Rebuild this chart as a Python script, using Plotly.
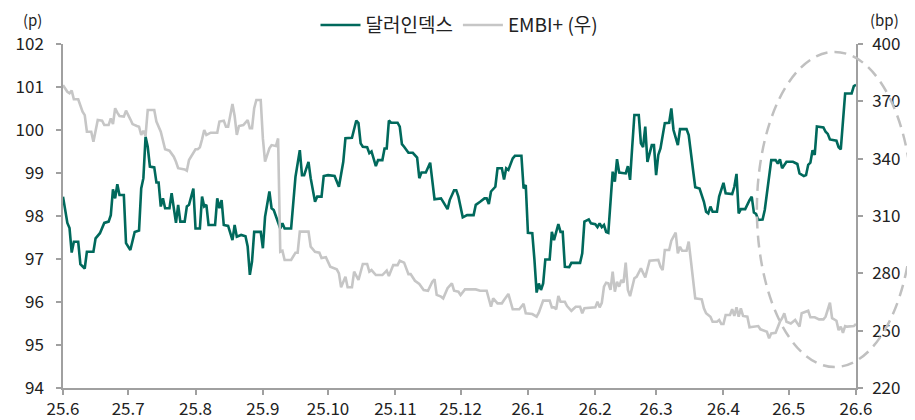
import plotly.graph_objects as go

# 달러인덱스 (left axis, p)
dxy_dates = ["2025-06-01","2025-06-03","2025-06-04","2025-06-05","2025-06-06","2025-06-08","2025-06-09","2025-06-11","2025-06-12","2025-06-15",
"2025-06-16","2025-06-18","2025-06-20","2025-06-22","2025-06-23","2025-06-24","2025-06-25","2025-06-26","2025-06-27","2025-06-29",
"2025-06-30","2025-07-02","2025-07-04","2025-07-06","2025-07-07","2025-07-08","2025-07-09","2025-07-10","2025-07-11","2025-07-13",
"2025-07-14","2025-07-15","2025-07-16","2025-07-17","2025-07-18","2025-07-20","2025-07-21","2025-07-23","2025-07-24","2025-07-25",
"2025-07-27","2025-07-28","2025-07-29","2025-07-31","2025-08-01","2025-08-03","2025-08-04","2025-08-05","2025-08-06","2025-08-07",
"2025-08-10","2025-08-11","2025-08-12","2025-08-13","2025-08-14","2025-08-16","2025-08-18","2025-08-19","2025-08-20","2025-08-22",
"2025-08-24","2025-08-25","2025-08-26","2025-08-27","2025-08-28","2025-08-31","2025-09-01","2025-09-02","2025-09-04","2025-09-05",
"2025-09-06","2025-09-09","2025-09-10","2025-09-11","2025-09-14","2025-09-16","2025-09-18","2025-09-19","2025-09-20","2025-09-22",
"2025-09-23","2025-09-25","2025-09-26","2025-09-28","2025-09-29","2025-10-01","2025-10-04","2025-10-06","2025-10-08","2025-10-09",
"2025-10-12","2025-10-13","2025-10-14","2025-10-15","2025-10-16","2025-10-17","2025-10-19","2025-10-20","2025-10-21","2025-10-23",
"2025-10-24","2025-10-26","2025-10-27","2025-10-28","2025-10-29","2025-10-30","2025-11-02","2025-11-03","2025-11-04","2025-11-05",
"2025-11-07","2025-11-09","2025-11-11","2025-11-12","2025-11-13","2025-11-15","2025-11-17","2025-11-19","2025-11-22","2025-11-23",
"2025-11-25","2025-11-26","2025-11-28","2025-11-29","2025-11-30","2025-12-02","2025-12-04","2025-12-07","2025-12-08","2025-12-10",
"2025-12-12","2025-12-13","2025-12-14","2025-12-15","2025-12-17","2025-12-18","2025-12-20","2025-12-21","2025-12-22","2025-12-23",
"2025-12-25","2025-12-26","2025-12-29","2025-12-30","2025-12-31","2026-01-01","2026-01-03","2026-01-04","2026-01-05","2026-01-06",
"2026-01-07","2026-01-08","2026-01-09","2026-01-11","2026-01-12","2026-01-13","2026-01-14","2026-01-15","2026-01-16","2026-01-17",
"2026-01-18","2026-01-20","2026-01-21","2026-01-25","2026-01-26","2026-01-27","2026-01-29","2026-01-30","2026-02-01","2026-02-02",
"2026-02-03","2026-02-04","2026-02-05","2026-02-06","2026-02-07","2026-02-08","2026-02-09","2026-02-10","2026-02-11","2026-02-12",
"2026-02-15","2026-02-16","2026-02-17","2026-02-18","2026-02-19","2026-02-21","2026-02-22","2026-02-23","2026-02-24","2026-02-25",
"2026-02-27","2026-02-28","2026-03-01","2026-03-02","2026-03-03","2026-03-05","2026-03-07","2026-03-08","2026-03-09","2026-03-11",
"2026-03-12","2026-03-15","2026-03-16","2026-03-18","2026-03-19","2026-03-21","2026-03-23","2026-03-24","2026-03-25","2026-03-26",
"2026-03-27","2026-03-29","2026-03-30","2026-04-01","2026-04-02","2026-04-05","2026-04-06","2026-04-07","2026-04-08","2026-04-09",
"2026-04-11","2026-04-13","2026-04-14","2026-04-15","2026-04-16","2026-04-17","2026-04-19","2026-04-20","2026-04-21","2026-04-22",
"2026-04-23","2026-04-25","2026-04-26","2026-04-27","2026-04-28","2026-04-30","2026-05-03","2026-05-05","2026-05-06","2026-05-08",
"2026-05-09","2026-05-10","2026-05-11","2026-05-12","2026-05-13","2026-05-14","2026-05-17","2026-05-18","2026-05-19","2026-05-20",
"2026-05-23","2026-05-24","2026-05-25","2026-05-27","2026-05-30","2026-05-31","2026-06-01"]
dxy_vals = [98.45,97.84,97.72,97.15,97.40,97.40,96.88,96.78,97.17,97.17,
97.48,97.60,97.84,97.87,98.02,98.62,98.41,98.74,98.49,98.49,
97.37,97.21,97.63,97.66,98.64,98.88,99.84,99.61,99.15,99.13,
98.78,98.78,98.22,98.41,98.18,98.18,98.53,97.84,98.26,97.87,
97.87,98.22,98.26,98.64,97.71,97.71,98.45,98.22,98.26,97.79,
97.79,98.41,98.18,98.37,97.79,97.77,97.44,97.79,97.52,97.56,
97.53,97.29,96.63,96.94,97.63,97.63,97.25,97.98,98.57,98.18,
98.14,97.71,97.83,97.71,97.71,98.91,99.53,98.95,98.95,99.26,
98.88,98.33,98.45,98.45,98.93,98.95,98.93,98.68,99.26,99.81,
99.82,100.00,100.22,100.16,99.69,99.61,99.60,99.46,99.50,99.16,
99.30,99.30,99.57,99.57,100.22,100.17,100.17,100.08,99.67,99.61,
99.47,99.47,99.36,98.88,99.01,99.01,99.24,98.39,98.41,98.33,
98.16,98.37,98.60,98.60,98.45,97.97,98.02,98.02,98.26,98.33,
98.41,98.41,98.28,98.57,98.68,99.11,99.11,98.85,99.11,99.07,
99.34,99.40,99.40,98.64,98.72,97.61,97.60,96.98,96.22,96.43,
96.28,96.43,96.99,96.99,97.63,97.44,97.63,97.81,97.63,97.63,
96.82,96.81,96.91,96.91,97.13,97.87,97.92,97.83,97.81,97.74,
97.83,97.74,97.79,97.63,97.61,98.37,99.03,98.80,99.32,99.01,
98.99,99.16,98.84,99.61,100.35,100.35,99.69,99.60,100.08,99.26,
99.65,99.65,98.95,99.42,99.57,100.16,100.17,100.50,100.00,99.65,
100.02,100.02,99.88,99.07,98.67,98.64,98.33,98.10,98.06,98.22,
98.10,98.10,98.45,98.77,98.53,98.51,98.68,98.98,98.06,98.16,
98.16,98.37,98.45,98.08,98.05,97.91,97.92,98.14,98.49,98.88,
99.30,99.30,99.22,99.32,99.11,99.26,99.26,99.21,98.99,98.93,
98.95,99.19,99.24,99.53,99.42,100.08,100.06,99.96,99.91,99.78,
99.75,99.60,99.55,100.85,100.85,101.02,101.05]

# EMBI+ (right axis, bp)
embi_dates = ["2025-06-01","2025-06-03","2025-06-04","2025-06-05","2025-06-06","2025-06-08","2025-06-10","2025-06-11","2025-06-12","2025-06-14",
"2025-06-15","2025-06-17","2025-06-19","2025-06-20","2025-06-22","2025-06-23","2025-06-24","2025-06-25","2025-06-26","2025-06-27",
"2025-06-29","2025-06-30","2025-07-02","2025-07-03","2025-07-05","2025-07-06","2025-07-07","2025-07-08","2025-07-09","2025-07-10",
"2025-07-13","2025-07-14","2025-07-16","2025-07-18","2025-07-20","2025-07-22","2025-07-23","2025-07-24","2025-07-27","2025-07-28",
"2025-07-29","2025-07-31","2025-08-01","2025-08-02","2025-08-03","2025-08-04","2025-08-05","2025-08-06","2025-08-08","2025-08-11",
"2025-08-12","2025-08-14","2025-08-15","2025-08-16","2025-08-18","2025-08-19","2025-08-20","2025-08-21","2025-08-23","2025-08-25",
"2025-08-26","2025-08-27","2025-08-28","2025-08-29","2025-08-31","2025-09-01","2025-09-02","2025-09-04","2025-09-05","2025-09-07",
"2025-09-08","2025-09-09","2025-09-10","2025-09-11","2025-09-14","2025-09-16","2025-09-17","2025-09-18","2025-09-22","2025-09-23",
"2025-09-25","2025-09-27","2025-09-28","2025-09-30","2025-10-01","2025-10-02","2025-10-05","2025-10-06","2025-10-07","2025-10-09",
"2025-10-10","2025-10-12","2025-10-13","2025-10-15","2025-10-17","2025-10-19","2025-10-20","2025-10-21","2025-10-23","2025-10-26",
"2025-10-28","2025-10-29","2025-10-31","2025-11-02","2025-11-03","2025-11-05","2025-11-07","2025-11-08","2025-11-10","2025-11-12",
"2025-11-14","2025-11-16","2025-11-18","2025-11-19","2025-11-20","2025-11-22","2025-11-23","2025-11-25","2025-11-27","2025-11-28",
"2025-11-30","2025-12-01","2025-12-03","2025-12-08","2025-12-10","2025-12-13","2025-12-15","2025-12-16","2025-12-18","2025-12-20",
"2025-12-21","2025-12-23","2025-12-25","2025-12-28","2025-12-30","2025-12-31","2026-01-03","2026-01-05","2026-01-06","2026-01-08",
"2026-01-11","2026-01-12","2026-01-13","2026-01-14","2026-01-15","2026-01-16","2026-01-18","2026-01-19","2026-01-21","2026-01-23",
"2026-01-25","2026-01-26","2026-01-27","2026-01-30","2026-02-01","2026-02-02","2026-02-03","2026-02-04","2026-02-05","2026-02-06",
"2026-02-07","2026-02-08","2026-02-09","2026-02-10","2026-02-11","2026-02-12","2026-02-13","2026-02-14","2026-02-15","2026-02-16",
"2026-02-17","2026-02-19","2026-02-20","2026-02-22","2026-02-23","2026-02-24","2026-02-26","2026-03-02","2026-03-03","2026-03-04",
"2026-03-05","2026-03-07","2026-03-08","2026-03-09","2026-03-10","2026-03-11","2026-03-12","2026-03-13","2026-03-15","2026-03-16",
"2026-03-18","2026-03-19","2026-03-22","2026-03-23","2026-03-24","2026-03-26","2026-03-27","2026-03-29","2026-03-30","2026-03-31",
"2026-04-01","2026-04-02","2026-04-04","2026-04-05","2026-04-06","2026-04-07","2026-04-08","2026-04-09","2026-04-10","2026-04-12",
"2026-04-13","2026-04-15","2026-04-17","2026-04-18","2026-04-19","2026-04-21","2026-04-22","2026-04-23","2026-04-25","2026-04-27",
"2026-04-28","2026-04-29","2026-04-30","2026-05-02","2026-05-04","2026-05-05","2026-05-06","2026-05-07","2026-05-08","2026-05-10",
"2026-05-11","2026-05-13","2026-05-15","2026-05-17","2026-05-18","2026-05-19","2026-05-20","2026-05-21","2026-05-23","2026-05-24",
"2026-05-25","2026-05-26","2026-05-27","2026-05-28","2026-05-31","2026-06-01"]
embi_vals = [378.5,375.0,374.2,375.6,371.1,371.1,364.6,362.8,354.1,354.1,
348.9,360.2,359.9,357.6,357.6,361.1,358.1,366.4,364.1,362.3,
362.0,365.1,360.6,358.1,357.1,356.7,352.4,354.6,351.9,365.5,
365.5,359.4,354.1,344.9,344.2,341.0,338.4,335.0,334.4,333.7,
339.3,342.8,344.9,344.9,345.9,350.1,355.0,352.4,353.6,353.6,
359.4,359.9,356.7,356.7,368.6,362.3,352.4,357.1,357.6,360.2,
355.9,355.9,366.4,370.7,370.7,350.6,338.4,345.4,347.1,346.6,
350.6,291.3,291.8,287.0,287.0,290.8,290.8,301.8,301.8,294.0,
291.3,290.8,288.0,288.4,285.6,283.5,282.1,280.0,272.7,278.2,
272.7,272.7,280.9,276.5,284.9,284.9,280.9,281.7,279.1,279.1,
281.4,278.6,284.3,284.3,286.6,285.6,279.6,279.6,276.1,274.4,
271.3,270.9,275.6,276.9,268.7,267.8,266.9,272.2,274.8,270.9,
270.4,268.7,271.6,271.6,270.9,270.9,262.5,266.9,264.3,264.3,
266.0,269.2,261.2,261.2,264.0,259.1,258.7,257.3,259.4,265.7,
265.7,262.2,262.2,261.2,268.1,265.1,265.1,262.9,260.4,262.5,
262.5,259.1,261.7,262.2,262.2,265.1,262.2,264.6,273.0,275.1,
274.8,271.3,280.9,270.4,275.6,273.0,276.5,275.1,285.6,271.3,
268.1,277.4,278.2,282.6,280.0,277.9,286.6,287.0,283.5,281.7,
292.2,292.2,297.1,299.2,301.3,290.5,293.9,291.8,291.8,296.6,
275.6,266.9,266.4,261.7,259.1,257.3,254.7,254.7,255.6,253.5,
253.5,258.2,258.2,261.2,257.7,262.2,257.3,261.7,257.7,257.3,
251.8,252.1,252.4,250.7,250.3,249.4,246.0,248.6,248.9,254.7,
256.5,259.1,254.7,253.8,255.6,253.5,252.1,259.1,259.4,260.4,
257.0,257.0,255.9,255.9,257.3,260.4,264.6,256.5,255.2,250.3,
252.1,248.9,252.4,252.1,252.4,253.5]

tick_dates = ["2025-06-01","2025-07-01","2025-08-01","2025-09-01","2025-10-01","2025-11-01","2025-12-01",
              "2026-01-01","2026-02-01","2026-03-01","2026-04-01","2026-05-01","2026-06-01"]
tick_labels = ["25.6","25.7","25.8","25.9","25.10","25.11","25.12","26.1","26.2","26.3","26.4","26.5","26.6"]

GREEN = "#00695c"
GREY = "#c6c6c6"
AX = "#a0a0a0"
TXT = "#222222"
FONT = "Noto Sans CJK KR"

fig = go.Figure()
fig.add_trace(go.Scatter(x=embi_dates, y=embi_vals, name="EMBI+ (우)", mode="lines",
                         line=dict(color=GREY, width=2.6), yaxis="y2"))
fig.add_trace(go.Scatter(x=dxy_dates, y=dxy_vals, name="달러인덱스", mode="lines",
                         line=dict(color=GREEN, width=2.6), yaxis="y"))

# the page body has an 8px default margin, so the figure is sized to fill the rest of the window
fig.update_layout(
    width=907, height=412,
    margin=dict(l=55, r=59, t=36, b=32, autoexpand=False),
    paper_bgcolor="white", plot_bgcolor="white",
    font=dict(family=FONT, size=17, color=TXT),
    showlegend=True,
    legend=dict(orientation="h", x=0.5, xanchor="center", y=1.055, yanchor="middle",
                font=dict(size=19, color=TXT), traceorder="reversed", itemwidth=40,
                bgcolor="rgba(0,0,0,0)"),
    xaxis=dict(type="date", range=["2025-06-01", "2026-06-01"], tickvals=tick_dates, ticktext=tick_labels,
               showgrid=False, zeroline=False, showline=True, linecolor=AX, linewidth=1.5,
               ticks="outside", ticklen=5, tickcolor=AX, tickwidth=1.5, automargin=False,
               tickfont=dict(size=17, color=TXT)),
    yaxis=dict(range=[94, 102], dtick=1, showgrid=False, zeroline=False, showline=True,
               linecolor=AX, linewidth=1.5, ticks="outside", ticklen=5, tickcolor=AX, tickwidth=1.5,
               automargin=False, tickfont=dict(size=17, color=TXT), ticklabelstandoff=9),
    yaxis2=dict(range=[220, 400], tick0=220, dtick=30, overlaying="y", side="right", showgrid=False,
                zeroline=False, showline=True, linecolor=AX, linewidth=1.5, ticks="outside", ticklen=5,
                tickcolor=AX, tickwidth=1.5, automargin=False, tickfont=dict(size=17, color=TXT),
                ticklabelstandoff=6),
    annotations=[
        dict(text="(p)", xref="paper", yref="paper", x=-0.038, y=1.1047, xanchor="center", yanchor="top",
             showarrow=False, borderpad=0, font=dict(size=15, color=TXT)),
        dict(text="(bp)", xref="paper", yref="paper", x=1.0357, y=1.1047, xanchor="center", yanchor="top",
             showarrow=False, borderpad=0, font=dict(size=15, color=TXT)),
    ],
    shapes=[
        dict(type="circle", xref="paper", yref="paper", x0=0.875, x1=1.0713, y0=0.061, y1=0.977,
             line=dict(color="#c0c0c0", width=2.5, dash="12px,7px"), layer="above"),
    ],
)

fig.write_html("out.html")
